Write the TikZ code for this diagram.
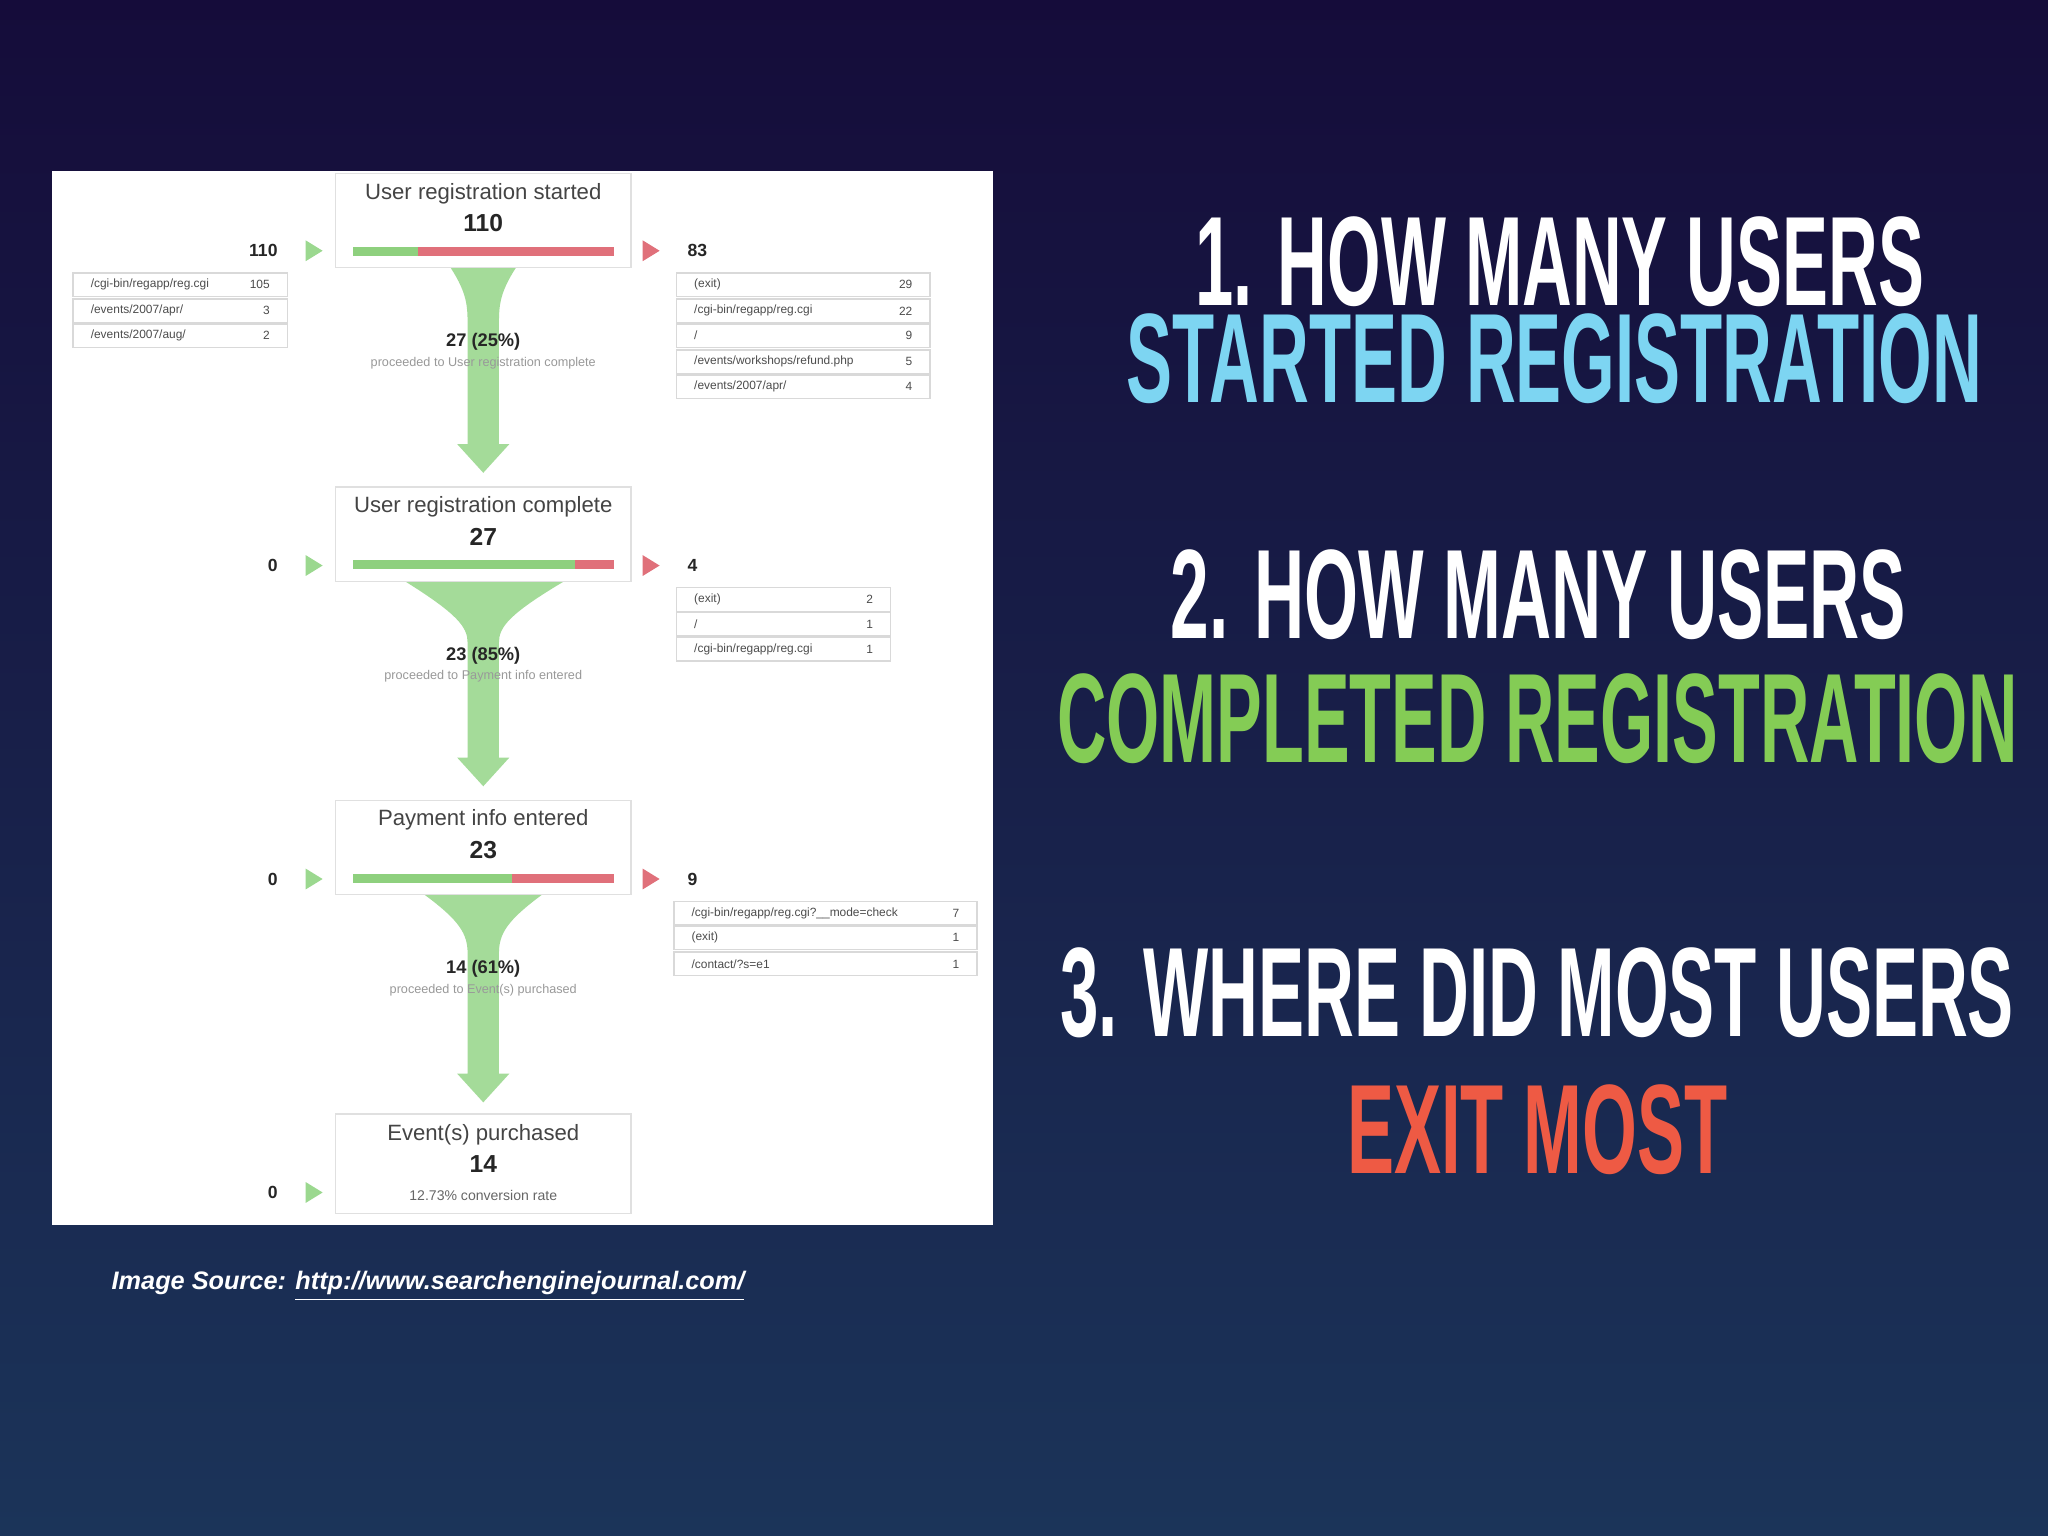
\documentclass[tikz,border=0pt]{standalone}
\usepackage{fontspec}
\setmainfont{Liberation Sans}
\usepackage{graphicx}
\definecolor{bgtop}{HTML}{150C3A}
\definecolor{bgbot}{HTML}{1B3459}
\definecolor{fgreen}{HTML}{9BD88F}
\definecolor{bgreen}{HTML}{8ED07E}
\definecolor{bred}{HTML}{E0707A}
\definecolor{tblue}{HTML}{7DD5F2}
\definecolor{tgreen}{HTML}{84CC55}
\definecolor{tred}{HTML}{EE5A44}
\definecolor{gtxt}{HTML}{444444}
\newcommand{\bigline}[2]{\resizebox{\dimexpr 0.01306cm*#1\relax}{\dimexpr 0.01306cm*68\relax}{\bfseries #2}}
\tikzset{
 stepbox/.style={draw=black!12,fill=white,minimum width=226*0.01306cm,inner sep=0},
 ttl/.style={text=gtxt,font=\fontsize{6.3}{7}\selectfont},
 num/.style={text=black!85,font=\bfseries\fontsize{7}{8}\selectfont},
 captxt/.style={text=black!40,font=\fontsize{3.6}{4}\selectfont},
 side/.style={text=black!85,font=\bfseries\fontsize{5}{6}\selectfont},
 row/.style={draw=black!15,fill=white,inner sep=0},
 rtxt/.style={text=black!70,font=\fontsize{3.4}{4}\selectfont,anchor=west},
 rnum/.style={text=black!70,font=\fontsize{3.4}{4}\selectfont,anchor=east},
 funnel/.style={fill=fgreen,draw=none,opacity=0.9},
}
\newcommand{\trow}[6]{% x1 x2 y text num name
 \node[row,minimum width=(#2-#1)*0.01306cm,minimum height=18*0.01306cm] (#6) at ({(#1+#2)/2},#3) {};
 \node[rtxt] at (#1+4,#3) {#4};
 \node[rnum] at (#2-4,#3) {#5};}
\begin{document}
\begin{tikzpicture}[x=0.01306cm,y=-0.01306cm]
\shade[top color=bgtop,bottom color=bgbot] (0,0) rectangle (1568,1176);
\useasboundingbox (0,0) rectangle (1568,1176);
\fill[white] (40,131) rectangle (760,938);
% funnels
\fill[funnel] (345,205) .. controls (358,225) and (358,235) .. (358,250) -- (358,340) -- (350,340) -- (370,362) -- (390,340) -- (382,340) -- (382,250) .. controls (382,235) and (382,225) .. (395,205) -- cycle;
\fill[funnel] (310,445) .. controls (350,470) and (358,480) .. (358,492) -- (358,580) -- (350,580) -- (370,602) -- (390,580) -- (382,580) -- (382,492) .. controls (382,480) and (390,470) .. (432,445) -- cycle;
\fill[funnel] (325,685) .. controls (352,705) and (358,715) .. (358,730) -- (358,822) -- (350,822) -- (370,844) -- (390,822) -- (382,822) -- (382,730) .. controls (382,715) and (388,705) .. (415,685) -- cycle;
% step boxes
\node[stepbox,minimum height=72*0.01306cm] (s1) at (370,169) {};
\node[ttl] (s1t) at (370,148) {User registration started};
\node[num] (s1n) at (370,171) {110};
\fill[bgreen] (270,189) rectangle (320,196); \fill[bred] (320,189) rectangle (470,196);
\node[stepbox,minimum height=72*0.01306cm] (s2) at (370,409) {};
\node[ttl] (s2t) at (370,388) {User registration complete};
\node[num] (s2n) at (370,411) {27};
\fill[bgreen] (270,429) rectangle (440,436); \fill[bred] (440,429) rectangle (470,436);
\node[stepbox,minimum height=72*0.01306cm] (s3) at (370,649) {};
\node[ttl] (s3t) at (370,628) {Payment info entered};
\node[num] (s3n) at (370,651) {23};
\fill[bgreen] (270,669) rectangle (392,676); \fill[bred] (392,669) rectangle (470,676);
\node[stepbox,minimum height=76*0.01306cm] (s4) at (370,891) {};
\node[ttl] (s4t) at (370,869) {Event(s) purchased};
\node[num] (s4n) at (370,891) {14};
\node[captxt,text=black!60,font=\fontsize{4}{5}\selectfont] (s4c) at (370,915) {12.73\% conversion rate};
% funnel labels
\node[num,font=\bfseries\fontsize{5.2}{6}\selectfont] (p1) at (370,262) {27 (25\%)};
\node[captxt] (p1c) at (370,278) {proceeded to User registration complete};
\node[num,font=\bfseries\fontsize{5.2}{6}\selectfont] (p2) at (370,502) {23 (85\%)};
\node[captxt] (p2c) at (370,518) {proceeded to Payment info entered};
\node[num,font=\bfseries\fontsize{5.2}{6}\selectfont] (p3) at (370,742) {14 (61\%)};
\node[captxt] (p3c) at (370,758) {proceeded to Event(s) purchased};
% side arrows
\foreach \y/\l/\r [count=\i] in {192/110/83,433/0/4,673/0/9} {
 \node[side,anchor=east] (L\i) at (222,\y) {\l};
 \fill[fgreen] (234,\y-8) -- (247,\y) -- (234,\y+8) -- cycle;
 \fill[bred] (492,\y-8) -- (505,\y) -- (492,\y+8) -- cycle;
 \node[side,anchor=west] (R\i) at (517,\y) {\r};
}
\node[side,anchor=east] (L4) at (222,913) {0};
\fill[fgreen] (234,905) -- (247,913) -- (234,921) -- cycle;
% tables
\trow{56}{220}{218}{/cgi-bin/regapp/reg.cgi}{105}{a1}
\trow{56}{220}{238}{/events/2007/apr/}{3}{a2}
\trow{56}{220}{257}{/events/2007/aug/}{2}{a3}
\trow{518}{712}{218}{(exit)}{29}{b1}
\trow{518}{712}{238}{/cgi-bin/regapp/reg.cgi}{22}{b2}
\trow{518}{712}{257}{/}{9}{b3}
\trow{518}{712}{277}{/events/workshops/refund.php}{5}{b4}
\trow{518}{712}{296}{/events/2007/apr/}{4}{b5}
\trow{518}{682}{459}{(exit)}{2}{c1}
\trow{518}{682}{478}{/}{1}{c2}
\trow{518}{682}{497}{/cgi-bin/regapp/reg.cgi}{1}{c3}
\trow{516}{748}{699}{/cgi-bin/regapp/reg.cgi?\_\_mode=check}{7}{d1}
\trow{516}{748}{718}{(exit)}{1}{d2}
\trow{516}{748}{738}{/contact/?s=e1}{1}{d3}
% source
\node[text=white,anchor=west,font=\bfseries\itshape\fontsize{7.2}{8}\selectfont] (src) at (76,985) {Image Source: \underline{http://www.searchenginejournal.com/}};
% right text
\node[text=white,inner sep=0] (q1) at (1194,200) {\bigline{558}{1. HOW MANY USERS}};
\node[text=tblue,inner sep=0] (q1b) at (1190,275) {\bigline{655}{STARTED REGISTRATION}};
\node[text=white,inner sep=0] (q2) at (1178,455) {\bigline{563}{2. HOW MANY USERS}};
\node[text=tgreen,inner sep=0] (q2b) at (1177,550) {\bigline{735}{COMPLETED REGISTRATION}};
\node[text=white,inner sep=0] (q3) at (1177,760) {\bigline{730}{3. WHERE DID MOST USERS}};
\node[text=tred,inner sep=0] (q3b) at (1177,865) {\bigline{291}{EXIT MOST}};
\end{tikzpicture}
\end{document}
